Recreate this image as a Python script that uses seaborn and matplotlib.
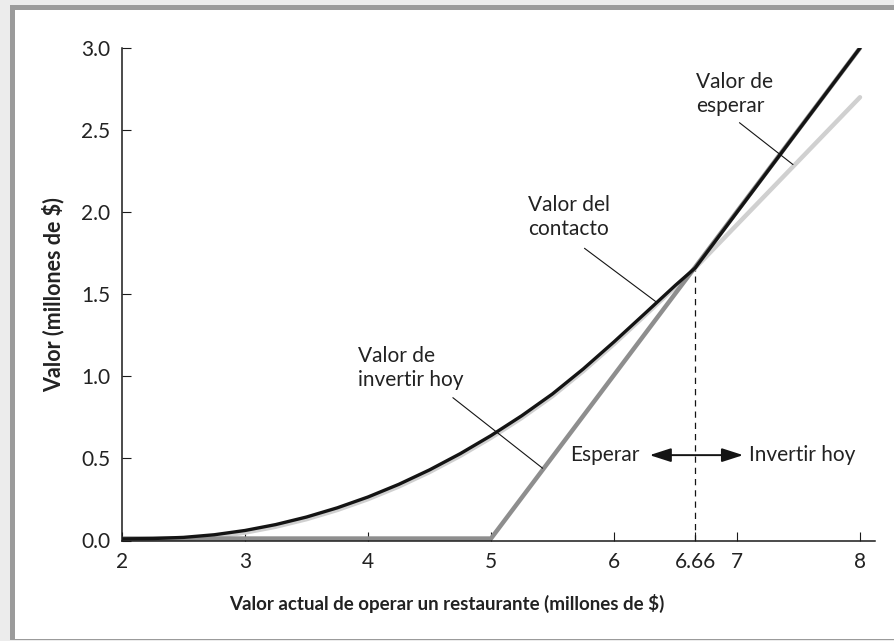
"""
Valor del contacto vs valor actual de operar un restaurante
"""

import matplotlib
matplotlib.use("Agg")
import matplotlib.pyplot as plt
from matplotlib.patches import Rectangle
from matplotlib.ticker import FormatStrFormatter
import seaborn as sns

# valores (millones de $)
valor_actual = [2.0, 2.25, 2.5, 2.75, 3.0, 3.25, 3.5, 3.75, 4.0, 4.25, 4.5, 4.75,
                5.0, 5.25, 5.5, 5.75, 6.0, 6.25, 6.5, 6.66, 8.0]
valor_contacto = [0.01, 0.012, 0.019, 0.035, 0.061, 0.097, 0.143, 0.199, 0.265, 0.342, 0.43, 0.529,
                  0.639, 0.76, 0.893, 1.045, 1.21, 1.382, 1.555, 1.66, 3.0]
valor_esperar = [0.0, 0.002, 0.007, 0.022, 0.048, 0.084, 0.13, 0.186, 0.252, 0.329, 0.417, 0.516,
                 0.626, 0.747, 0.88, 1.032, 1.197, 1.37, 1.545, 1.66, 2.70]
x_invertir = [2.0, 5.0, 8.0]
valor_invertir = [0.012, 0.012, 3.0]

umbral = 6.66
umbral_valor = 1.66
x_ticks = [2, 3, 4, 5, 6, 6.66, 7, 8]
x_tick_labels = ["2", "3", "4", "5", "6", "6.66", "7", "8"]
y_ticks = [0.0, 0.5, 1.0, 1.5, 2.0, 2.5, 3.0]

sns.set_style("ticks")
plt.rcParams["font.family"] = ["Lato", "DejaVu Sans"]
TXT = "#222222"

W, H = 894, 641
fig = plt.figure(figsize=(W / 100, H / 100), dpi=100, facecolor="#ececec")

# marco gris
fig.patches.append(Rectangle((10 / W, 1 / H), 1.0, 635 / H, transform=fig.transFigure,
                             facecolor="#9b9b9b", edgecolor="none", zorder=-20))
fig.patches.append(Rectangle((15 / W, 2 / H), 1.0, 629 / H, transform=fig.transFigure,
                             facecolor="white", edgecolor="none", zorder=-10))

ax = fig.add_axes([122 / W, 1 - 540.5 / H, 753 / W, 492.5 / H])
ax.set_facecolor("none")

sns.lineplot(x=valor_actual, y=valor_esperar, ax=ax, color="#d0d0d0", linewidth=3.2,
             sort=False, zorder=2, solid_joinstyle="round")
sns.lineplot(x=x_invertir, y=valor_invertir, ax=ax, color="#8e8e8e", linewidth=3.2,
             sort=False, zorder=3)
sns.lineplot(x=valor_actual, y=valor_contacto, ax=ax, color="#141414", linewidth=2.4,
             sort=False, zorder=4, solid_joinstyle="round")

ax.vlines(umbral, 0, umbral_valor, colors="#141414", linestyles=(0, (5, 4)), linewidth=0.9, zorder=1)

ax.set_xlim(2, 8.122)
ax.set_ylim(0, 3.0)
ax.set_xticks(x_ticks)
ax.set_xticklabels(x_tick_labels)
ax.set_yticks(y_ticks)
ax.yaxis.set_major_formatter(FormatStrFormatter("%.1f"))
sns.despine(ax=ax)
for s in ["left", "bottom"]:
    ax.spines[s].set_linewidth(1.1)
    ax.spines[s].set_color("#1a1a1a")
    ax.spines[s].set_zorder(5)
ax.tick_params(axis="both", direction="in", length=6.5, width=0.8, color="#1a1a1a",
               labelsize=15, labelcolor=TXT)
ax.tick_params(axis="y", pad=8.5)
ax.tick_params(axis="x", pad=8.5)

ax.set_xlabel("Valor actual de operar un restaurante (millones de $)", fontsize=13.5,
              fontweight="bold", color=TXT)
ax.xaxis.set_label_coords(0.432, -0.127)
ax.xaxis.label.set_va("center")
ax.set_ylabel("Valor (millones de $)", fontsize=15.5, fontweight="bold", color=TXT)
ax.yaxis.set_label_coords(-0.0916, 0.5)
ax.yaxis.label.set_va("center")

# etiquetas
fs = 15
ax.text(6.67, 2.72, "Valor de\nesperar", fontsize=fs, color=TXT, ha="left", va="center",
        linespacing=1.25)
ax.text(5.30, 1.97, "Valor del\ncontacto", fontsize=fs, color=TXT, ha="left", va="center",
        linespacing=1.25)
ax.text(3.92, 1.05, "Valor de\ninvertir hoy", fontsize=fs, color=TXT, ha="left", va="center",
        linespacing=1.25)

line = dict(arrowstyle="-", color="#141414", lw=0.8, shrinkA=0, shrinkB=0)
ax.annotate("", xy=(7.455, 2.29), xytext=(7.02, 2.545), arrowprops=line)
ax.annotate("", xy=(6.34, 1.455), xytext=(5.76, 1.78), arrowprops=line)
ax.annotate("", xy=(5.42, 0.44), xytext=(4.69, 0.87), arrowprops=line)

ax.annotate("", xy=(6.29, 0.52), xytext=(7.05, 0.52),
            arrowprops=dict(arrowstyle="<|-|>,head_length=1.3,head_width=0.42",
                            color="#141414", lw=1.4, shrinkA=0, shrinkB=0, mutation_scale=10))
ax.text(6.21, 0.52, "Esperar", fontsize=fs, color=TXT, ha="right", va="center")
ax.text(7.10, 0.52, "Invertir hoy", fontsize=fs, color=TXT, ha="left", va="center")

fig.savefig("out.png", dpi=100, facecolor=fig.get_facecolor())
